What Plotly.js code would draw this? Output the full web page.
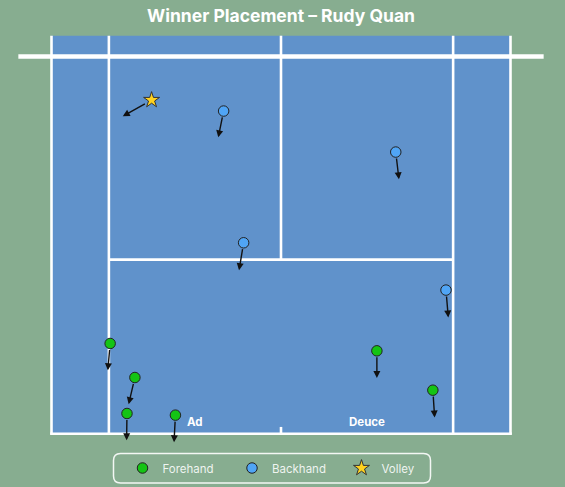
<!DOCTYPE html>
<html>
<head>
<meta charset="utf-8">
<script src="https://cdn.plot.ly/plotly-3.0.1.min.js"></script>
<style>html,body{margin:0;padding:0;background:#87AD90;}#chart{width:565px;height:487px;}</style>
</head>
<body>
<div id="chart"></div>
<script>
// Shot positions (feet: x from centre line, y = depth from net) and arrow end points
const forehandX    = [-13.40, -11.46, -12.08, -8.28, 7.52, 11.91];
const forehandY    = [29.67, 33.19, 36.91, 37.08, 30.43, 34.50];
const forehandEndX = [-13.58, -11.95, -12.11, -8.39, 7.52, 12.05];
const forehandEndY = [32.43, 35.95, 39.67, 39.88, 33.23, 37.32];

const backhandX    = [-4.50, 9.00, -2.93, 12.94];
const backhandY    = [5.64, 9.88, 19.26, 24.15];
const backhandEndX = [-4.92, 9.25, -3.29, 13.12];
const backhandEndY = [8.36, 12.70, 22.09, 26.98];

const volleyX    = [-10.15];
const volleyY    = [4.50];
const volleyEndX = [-12.41];
const volleyEndY = [6.19];

const seriesNames = ['Forehand', 'Backhand', 'Volley'];
const sideLabels = ['Ad', 'Deuce'];
const sideLabelX = [-6.75, 6.75];
const sideLabelY = [37.8, 37.8];

// Court geometry (feet)
const doublesHalf = 18, singlesHalf = 13.5, serviceLine = 21, baseline = 39, beyondNet = -2.15, netHalf = 20.6;

const BG = '#87AD90', COURT = '#6092CB', LINE = '#FFFFFF';

const traces = [
  {x: forehandX, y: forehandY, name: seriesNames[0], type: 'scatter', mode: 'markers',
   marker: {size: 10.5, color: '#14C414', symbol: 'circle', line: {color: '#222', width: 1}}},
  {x: backhandX, y: backhandY, name: seriesNames[1], type: 'scatter', mode: 'markers',
   marker: {size: 10.5, color: '#50A5F5', symbol: 'circle', line: {color: '#222', width: 1}}},
  {x: volleyX, y: volleyY, name: seriesNames[2], type: 'scatter', mode: 'markers',
   marker: {size: 12, color: '#FFD21F', symbol: 'star', line: {color: '#333', width: 1}}}
];

function line(x0, y0, x1, y1, w) {
  return {type: 'line', xref: 'x', yref: 'y', x0, y0, x1, y1, line: {color: LINE, width: w || 2.6}, layer: 'below'};
}
const shapes = [
  {type: 'rect', xref: 'x', yref: 'y', x0: -doublesHalf, x1: doublesHalf, y0: beyondNet, y1: baseline,
   fillcolor: COURT, line: {width: 0}, layer: 'below'},
  line(-doublesHalf, beyondNet, -doublesHalf, baseline),
  line(doublesHalf, beyondNet, doublesHalf, baseline),
  line(-singlesHalf, beyondNet, -singlesHalf, baseline),
  line(singlesHalf, beyondNet, singlesHalf, baseline),
  line(0, beyondNet, 0, serviceLine),
  line(-singlesHalf, serviceLine, singlesHalf, serviceLine),
  line(-doublesHalf - 0.11, baseline, doublesHalf + 0.11, baseline),
  line(0, baseline - 0.7, 0, baseline),
  line(-netHalf, 0, netHalf, 0, 4.6)
];
// rounded legend frame (paper coords)
(function(){
  const W = 565, H = 487;
  const l = 113.5 / W, r = 430.5 / W, t = 1 - 453.5 / H, b = 1 - 483 / H;
  const rx = 7 / W, ry = 7 / H;
  const p = `M ${l + rx},${t} L ${r - rx},${t} Q ${r},${t} ${r},${t - ry} L ${r},${b + ry} Q ${r},${b} ${r - rx},${b} ` +
            `L ${l + rx},${b} Q ${l},${b} ${l},${b + ry} L ${l},${t - ry} Q ${l},${t} ${l + rx},${t} Z`;
  shapes.push({type: 'path', xref: 'paper', yref: 'paper', path: p, line: {color: 'rgba(255,255,255,0.9)', width: 1.5}, fillcolor: 'rgba(0,0,0,0)', layer: 'above'});
})();

const annotations = [];
function addArrows(xs, ys, ex, ey, so) {
  for (let i = 0; i < xs.length; i++) {
    annotations.push({x: ex[i], y: ey[i], ax: xs[i], ay: ys[i], axref: 'x', ayref: 'y', xref: 'x', yref: 'y',
      text: '', showarrow: true, arrowhead: 2, arrowsize: 1, arrowwidth: 1.4, arrowcolor: '#111',
      startstandoff: so, standoff: 0});
  }
}
addArrows(forehandX, forehandY, forehandEndX, forehandEndY, 5);
addArrows(backhandX, backhandY, backhandEndX, backhandEndY, 5);
addArrows(volleyX, volleyY, volleyEndX, volleyEndY, 6);
for (let i = 0; i < sideLabels.length; i++) {
  annotations.push({x: sideLabelX[i], y: sideLabelY[i], xref: 'x', yref: 'y', text: '<b>' + sideLabels[i] + '</b>',
    showarrow: false, font: {family: 'Inter, sans-serif', size: 11.5, color: '#FFFFFF'}});
}

const layout = {
  width: 565, height: 487,
  margin: {l: 0, r: 0, t: 0, b: 0},
  paper_bgcolor: BG, plot_bgcolor: BG,
  title: {text: '<b>Winner Placement – Rudy Quan</b>', x: 281 / 565, xanchor: 'center', xref: 'container',
          y: 1 - 16 / 487, yanchor: 'middle', yref: 'container',
          font: {family: 'Inter, sans-serif', size: 17.5, color: '#FFFFFF'}},
  xaxis: {range: [(0 - 281) / 12.75, (565 - 281) / 12.75], visible: false, fixedrange: true},
  yaxis: {range: [(487 - 56.5) / 9.672, (0 - 56.5) / 9.672], visible: false, fixedrange: true},
  showlegend: true,
  legend: {orientation: 'h', x: 122.5 / 565, xanchor: 'left', y: 1 - 468 / 487, yanchor: 'middle',
           bgcolor: 'rgba(0,0,0,0)', borderwidth: 0, entrywidth: 64.5, entrywidthmode: 'pixels',
           font: {family: 'Inter, sans-serif', size: 11.5, color: 'rgba(255,255,255,0.88)'}},
  shapes: shapes,
  annotations: annotations
};

Plotly.newPlot('chart', traces, layout, {displayModeBar: false, staticPlot: true});
</script>
</body>
</html>
